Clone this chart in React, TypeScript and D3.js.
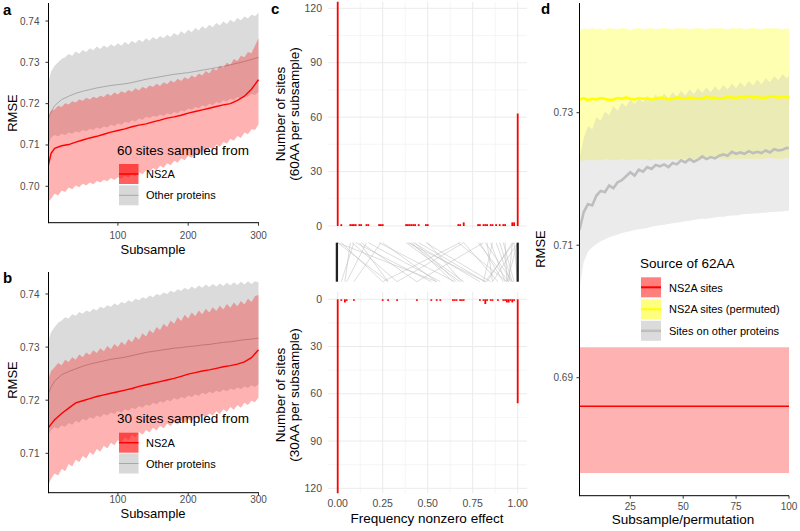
import React from "react";
import * as d3 from "d3";

const FONT = "'Liberation Sans', Arial, Helvetica, sans-serif";
const TICK_COLOR = "#4d4d4d";

// ---------- panels a & b : subsample index ----------
const BAND_X = [1,5,10,15,20,25,30,35,40,45,50,55,60,65,70,75,80,85,90,95,100,105,110,115,120,125,130,135,140,145,150,155,160,165,170,175,180,185,190,195,200,205,210,215,220,225,230,235,240,245,250,255,260,265,270,275,280,285,290,295,300];
const MEAN_X = [1,5,10,20,30,40,50,60,70,80,90,100,110,120,130,140,150,160,170,180,190,200,210,220,230,240,250,260,270,280,290,300];
const AB_XTICKS = [100, 200, 300];

// panel a (60 sites)
const A_NS2A_MEAN = [.7050,.7080,.7092,.7098,.7101,.7107,.7112,.7117,.7121,.7126,.7131,.7135,.7139,.7144,.7148,.7151,.7156,.7160,.7165,.7168,.7172,.7177,.7181,.7185,.7189,.7193,.7197,.7200,.7208,.7218,.7235,.7258];
const A_NS2A_HI = [.7165,.7183,.7186,.7195,.7192,.7201,.7198,.7206,.7203,.7210,.7207,.7214,.7210,.7217,.7213,.7219,.7216,.7224,.7219,.7227,.7222,
  .7230,.7226,.7233,.7229,.7237,.7232,.7241,.7236,.7244,.7240,.7248,.7243,.7252,.7247,.7256,.7251,.7260,.7255,.7264,.7259,
  .7268,.7263,.7273,.7268,.7279,.7273,.7285,.7280,.7292,.7287,.7299,.7294,.7308,.7303,.7316,.7312,.7325,.7322,.7340,.7358];
const A_NS2A_LO = [.6962,.6970,.6982,.6978,.6990,.6986,.6997,.6993,.7002,.6998,.7006,.7002,.7009,.7005,.7013,.7009,.7016,.7012,.7020,.7015,.7022,
  .7018,.7026,.7021,.7030,.7025,.7034,.7029,.7039,.7034,.7044,.7039,.7050,.7045,.7056,.7051,.7062,.7057,.7068,.7063,.7074,
  .7069,.7080,.7075,.7087,.7082,.7094,.7089,.7101,.7096,.7108,.7103,.7115,.7110,.7122,.7117,.7130,.7126,.7138,.7136,.7150];
const A_OTHER_MEAN = [.7165,.7180,.7195,.7210,.7218,.7225,.7230,.7234,.7238,.7241,.7244,.7246,.7248,.7251,.7255,.7259,.7262,.7265,.7268,.7271,.7273,.7275,.7278,.7281,.7284,.7287,.7290,.7294,.7298,.7302,.7307,.7312];
const A_OTHER_HI = [.7252,.7278,.7292,.7300,.7308,.7312,.7320,.7316,.7326,.7321,.7330,.7325,.7334,.7329,.7338,.7332,.7341,.7335,.7344,.7338,.7346,
  .7340,.7349,.7343,.7352,.7346,.7355,.7349,.7358,.7352,.7361,.7355,.7364,.7358,.7367,.7361,.7371,.7365,.7375,.7369,.7379,
  .7373,.7383,.7377,.7387,.7381,.7391,.7385,.7395,.7389,.7399,.7393,.7403,.7397,.7407,.7402,.7411,.7406,.7415,.7412,.7420];
const A_OTHER_LO = [.7100,.7118,.7124,.7121,.7127,.7124,.7130,.7127,.7133,.7130,.7136,.7133,.7139,.7136,.7142,.7139,.7145,.7142,.7149,.7146,.7152,
  .7149,.7156,.7153,.7160,.7157,.7164,.7161,.7168,.7165,.7171,.7168,.7174,.7171,.7177,.7174,.7180,.7177,.7184,.7181,.7188,
  .7185,.7192,.7189,.7196,.7193,.7200,.7197,.7204,.7201,.7208,.7205,.7212,.7209,.7216,.7213,.7220,.7217,.7224,.7221,.7228];
const A_YTICKS = [0.70, 0.71, 0.72, 0.73, 0.74];

// panel b (30 sites)
const B_NS2A_MEAN = [.7148,.7155,.7163,.7175,.7185,.7195,.7199,.7203,.7207,.7210,.7213,.7216,.7219,.7222,.7226,.7229,.7232,.7235,.7238,.7241,.7245,.7249,.7252,.7255,.7257,.7260,.7263,.7265,.7268,.7272,.7280,.7295];
const B_NS2A_HI = [.7240,.7255,.7262,.7270,.7266,.7276,.7272,.7281,.7276,.7286,.7281,.7290,.7285,.7294,.7289,.7298,.7292,.7302,.7296,.7306,.7300,
  .7310,.7304,.7315,.7309,.7320,.7314,.7326,.7320,.7332,.7326,.7338,.7332,.7344,.7338,.7350,.7344,.7356,.7349,.7361,.7354,
  .7365,.7358,.7369,.7362,.7372,.7365,.7375,.7368,.7378,.7371,.7381,.7374,.7384,.7377,.7387,.7380,.7391,.7385,.7396,.7398];
const B_NS2A_LO = [.7040,.7052,.7062,.7058,.7071,.7066,.7080,.7075,.7088,.7083,.7095,.7090,.7102,.7097,.7108,.7103,.7114,.7109,.7120,.7115,.7125,
  .7120,.7130,.7125,.7135,.7130,.7140,.7135,.7144,.7139,.7148,.7143,.7152,.7147,.7156,.7151,.7159,.7154,.7162,.7157,.7165,
  .7160,.7168,.7164,.7172,.7167,.7175,.7171,.7179,.7174,.7183,.7178,.7187,.7182,.7191,.7186,.7195,.7191,.7199,.7196,.7205];
const B_OTHER_MEAN = [.7212,.7225,.7236,.7248,.7254,.7259,.7264,.7268,.7271,.7274,.7277,.7279,.7281,.7284,.7287,.7290,.7292,.7294,.7296,.7298,.7299,.7301,.7302,.7304,.7305,.7307,.7309,.7310,.7312,.7314,.7315,.7317];
const B_OTHER_HI = [.7312,.7328,.7338,.7346,.7350,.7356,.7354,.7362,.7359,.7366,.7363,.7369,.7366,.7372,.7369,.7376,.7373,.7379,.7376,.7382,.7379,
  .7385,.7382,.7388,.7385,.7391,.7388,.7394,.7391,.7397,.7394,.7400,.7397,.7403,.7400,.7406,.7403,.7409,.7406,.7412,.7408,
  .7414,.7410,.7416,.7412,.7418,.7413,.7419,.7414,.7420,.7415,.7421,.7416,.7422,.7417,.7423,.7418,.7424,.7419,.7424,.7422];
const B_OTHER_LO = [.7135,.7144,.7149,.7146,.7153,.7150,.7157,.7154,.7161,.7158,.7165,.7162,.7168,.7165,.7171,.7168,.7174,.7171,.7177,.7174,.7180,
  .7177,.7183,.7180,.7186,.7183,.7189,.7186,.7192,.7189,.7195,.7192,.7198,.7195,.7201,.7198,.7204,.7201,.7206,.7203,.7209,
  .7206,.7211,.7208,.7214,.7211,.7216,.7213,.7218,.7215,.7220,.7217,.7222,.7219,.7224,.7221,.7226,.7223,.7228,.7225,.7230];
const B_YTICKS = [0.71, 0.72, 0.73, 0.74];

// ---------- panel c : histograms of frequency nonzero effect ----------
const C60_FREQ = [0.00,0.02,0.07,0.08,0.09,0.10,0.12,0.13,0.16,0.17,0.23,0.24,0.25,0.38,0.39,0.40,0.41,0.42,0.43,0.45,0.49,0.50,0.67,0.68,0.70,0.78,0.79,0.81,0.82,0.83,0.85,0.86,0.88,0.90,0.92,0.93,0.97,0.98,1.00];
const C60_COUNT = [124,1,1,1,1,1,1,1,1,1,1,1,1,1,1,1,1,1,1,1,1,1,1,1,2,1,1,1,1,1,1,1,1,1,1,1,2,2,62];
const C30_FREQ = [0.00,0.02,0.04,0.05,0.09,0.25,0.28,0.33,0.44,0.52,0.55,0.57,0.64,0.65,0.66,0.68,0.69,0.70,0.79,0.81,0.82,0.83,0.85,0.86,0.89,0.92,0.93,0.94,0.95,0.96,0.97,0.98,1.00];
const C30_COUNT = [124,1,2,1,1,1,1,1,1,1,1,1,1,1,1,1,1,1,1,1,3,1,1,1,1,1,1,2,2,1,2,1,66];
const LINK_60 = [0.02,0.07,0.08,0.09,0.10,0.12,0.13,0.16,0.17,0.23,0.24,0.25,0.38,0.39,0.40,0.41,0.42,0.43,0.45,0.49,0.50,0.67,0.68,0.70,0.70,0.78,0.79,0.81,0.82,0.83,0.85,0.86,0.88,0.90,0.92,0.93,0.97,0.97,0.98,0.98,0.00,0.00,1.00,1.00];
const LINK_30 = [0.25,0.04,0.33,0.02,0.52,0.28,0.44,0.05,0.57,0.65,0.09,0.55,0.68,0.82,0.70,0.64,0.79,0.66,0.82,0.85,0.69,0.94,0.25,0.89,0.33,0.95,0.92,0.44,0.97,0.86,0.93,0.81,0.96,0.97,0.98,0.94,0.83,0.95,1.00,0.82,0.28,0.55,0.94,0.86];
const C_XTICKS = [0, 0.25, 0.5, 0.75, 1];
const C_YTICKS = [0, 30, 60, 90, 120];

// ---------- panel d ----------
const D_X = [1,3,5,7,9,11,13,15,17,19,21,23,25,27,29,31,33,35,37,39,41,43,45,47,49,51,53,55,57,59,61,63,65,67,69,71,73,75,77,79,81,83,85,87,89,91,93,95,97,99,100];
const D_NS2A_X = [1, 100];
const D_NS2A_MEAN = [0.6857, 0.6857];
const D_NS2A_LO = [0.6756, 0.6756];
const D_NS2A_HI = [0.6946, 0.6946];
const D_PERM_MEAN = [.7320,.7322,.7319,.7321,.7320,.7322,.7321,.7319,.7320,.7322,.7321,.7323,.7321,.7320,.7322,.7321,.7322,.7320,.7321,.7323,.7322,.7320,.7321,.7323,.7322,.7321,.7323,.7322,.7321,.7322,.7324,.7322,.7323,.7321,.7322,.7324,.7323,.7322,.7324,.7323,.7325,.7323,.7324,.7322,.7323,.7325,.7324,.7323,.7324,.7323,.7324];
const D_PERM_HI = [.7425,.7427,.7426,.7428,.7426,.7427,.7425,.7428,.7427,.7426,.7428,.7427,.7425,.7427,.7428,.7426,.7427,.7428,.7426,.7427,.7428,.7427,.7426,.7428,.7427,.7428,.7426,.7427,.7428,.7427,.7426,.7428,.7427,.7428,.7427,.7426,.7428,.7427,.7428,.7426,.7427,.7428,.7427,.7426,.7428,.7427,.7428,.7427,.7426,.7427,.7427];
const D_PERM_LO = [.7227,.7228,.7229,.7228,.7229,.7228,.7230,.7229,.7228,.7229,.7230,.7229,.7228,.7230,.7229,.7230,.7229,.7228,.7230,.7229,.7230,.7229,.7230,.7229,.7231,.7230,.7229,.7230,.7231,.7230,.7229,.7231,.7230,.7231,.7230,.7229,.7231,.7230,.7231,.7230,.7231,.7230,.7231,.7230,.7231,.7232,.7231,.7230,.7231,.7232,.7231];
const D_OTHER_MEAN = [.7123,.7150,.7162,.7160,.7175,.7182,.7180,.7190,.7186,.7195,.7198,.7204,.7210,.7205,.7214,.7211,.7218,.7215,.7221,.7219,.7222,.7218,.7224,.7222,.7228,.7225,.7230,.7226,.7229,.7234,.7230,.7233,.7231,.7235,.7237,.7235,.7241,.7238,.7240,.7238,.7242,.7239,.7241,.7239,.7243,.7240,.7245,.7243,.7244,.7247,.7246];
const D_OTHER_HI = [.7230,.7262,.7280,.7275,.7293,.7288,.7302,.7296,.7310,.7303,.7315,.7309,.7320,.7313,.7322,.7316,.7325,.7318,.7327,.7320,.7329,.7322,.7331,.7324,.7333,.7326,.7335,.7328,.7337,.7330,.7338,.7331,.7340,.7333,.7342,.7335,.7344,.7337,.7346,.7339,.7348,.7341,.7350,.7343,.7352,.7346,.7355,.7349,.7358,.7352,.7356];
const D_OTHER_LO = [.7035,.7075,.7090,.7097,.7102,.7106,.7109,.7112,.7114,.7116,.7118,.7120,.7121,.7123,.7124,.7125,.7126,.7128,.7129,.7130,.7131,.7132,.7133,.7134,.7135,.7136,.7137,.7138,.7139,.7140,.7140,.7141,.7142,.7143,.7143,.7144,.7145,.7145,.7146,.7147,.7147,.7148,.7148,.7149,.7149,.7150,.7150,.7151,.7151,.7152,.7152];
const D_XTICKS = [25, 50, 75, 100];
const D_YTICKS = [0.69, 0.71, 0.73];

// ---------- helpers ----------
type Scale = d3.ScaleLinear<number, number>;
const idx = (n: number) => Array.from({ length: n }, (_, i) => i);
function bandPath(xs: number[], lo: number[], hi: number[], x: Scale, y: Scale) {
  const n = Math.min(xs.length, lo.length, hi.length);
  return d3.area<number>().x(i => x(xs[i])).y0(i => y(lo[i])).y1(i => y(hi[i]))(idx(n)) || "";
}
function linePath(xs: number[], ys: number[], x: Scale, y: Scale) {
  const n = Math.min(xs.length, ys.length);
  return d3.line<number>().x(i => x(xs[i])).y(i => y(ys[i]))(idx(n)) || "";
}

const PANEL_A = {
  id: "clipA", letter: "a", letterY: 15, top: 3, bottom: 222.7,
  yDomain: [0.70, 0.74], yRange: [186.3, 21], yTicks: A_YTICKS,
  nsMean: A_NS2A_MEAN, nsLo: A_NS2A_LO, nsHi: A_NS2A_HI,
  oMean: A_OTHER_MEAN, oLo: A_OTHER_LO, oHi: A_OTHER_HI,
  title: "60 sites sampled from", titleY: 155, key1: 164, key2: 185.3, lab1: 178, lab2: 199,
  tickY: 239, xTitleY: 254, rmseY: 113,
};
const PANEL_B = {
  id: "clipB", letter: "b", letterY: 283, top: 272, bottom: 492.7,
  yDomain: [0.71, 0.74], yRange: [453.3, 294], yTicks: B_YTICKS,
  nsMean: B_NS2A_MEAN, nsLo: B_NS2A_LO, nsHi: B_NS2A_HI,
  oMean: B_OTHER_MEAN, oLo: B_OTHER_LO, oHi: B_OTHER_HI,
  title: "30 sites sampled from", titleY: 423, key1: 432.7, key2: 453.5, lab1: 447, lab2: 468,
  tickY: 502.5, xTitleY: 518, rmseY: 380,
};

function SubsamplePanel({ c }: { c: typeof PANEL_A }) {
  const L = 48.5, R = 259;
  const x = d3.scaleLinear().domain([1, 300]).range([48.3, 258.5]);
  const y = d3.scaleLinear().domain(c.yDomain).range(c.yRange);
  const kx = 119, kw = 19.5;
  return (
    <g>
      <defs>
        <clipPath id={c.id}><rect x={L} y={c.top} width={R - L} height={c.bottom - c.top} /></clipPath>
      </defs>
      <g clipPath={`url(#${c.id})`}>
        <path d={bandPath(BAND_X, c.oLo, c.oHi, x, y)} fill="#bebebe" fillOpacity={0.55} />
        <path d={linePath(MEAN_X, c.oMean, x, y)} fill="none" stroke="#a8a8a8" strokeWidth={1} />
        <path d={bandPath(BAND_X, c.nsLo, c.nsHi, x, y)} fill="#ff0000" fillOpacity={0.3} />
        <path d={linePath(MEAN_X, c.nsMean, x, y)} fill="none" stroke="#ff0000" strokeWidth={1.4} />
      </g>
      {/* axes */}
      <line x1={L} x2={L} y1={c.top} y2={c.bottom + 0.5} stroke="#000" strokeWidth={1} />
      <line x1={L} x2={R} y1={c.bottom} y2={c.bottom} stroke="#000" strokeWidth={1} />
      {c.yTicks.map(t => (
        <g key={t}>
          <line x1={L - 3} x2={L} y1={y(t)} y2={y(t)} stroke="#333" strokeWidth={1} />
          <text x={39.5} y={y(t)} dy="0.35em" textAnchor="end" fontSize={10} fill={TICK_COLOR}>{t.toFixed(2)}</text>
        </g>
      ))}
      {AB_XTICKS.map(t => (
        <g key={t}>
          <line x1={x(t)} x2={x(t)} y1={c.bottom} y2={c.bottom + 3} stroke="#333" strokeWidth={1} />
          <text x={x(t)} y={c.tickY} textAnchor="middle" fontSize={10} fill={TICK_COLOR}>{t}</text>
        </g>
      ))}
      <text x={153} y={c.xTitleY} textAnchor="middle" fontSize={13}>Subsample</text>
      <text transform={`translate(17,${c.rmseY}) rotate(-90)`} textAnchor="middle" fontSize={13}>RMSE</text>
      <text x={3} y={c.letterY} fontSize={15} fontWeight="bold">{c.letter}</text>
      {/* legend */}
      <text x={117} y={c.titleY} fontSize={13.5}>{c.title}</text>
      <rect x={kx} y={c.key1} width={kw} height={20} fill="#ff0000" fillOpacity={0.62} />
      <line x1={kx} x2={kx + kw} y1={c.key1 + 10} y2={c.key1 + 10} stroke="#ff0000" strokeWidth={1.5} />
      <rect x={kx} y={c.key2} width={kw} height={20} fill="#bebebe" fillOpacity={0.6} />
      <line x1={kx} x2={kx + kw} y1={c.key2 + 10} y2={c.key2 + 10} stroke="#a8a8a8" strokeWidth={1} />
      <text x={146} y={c.lab1} fontSize={11}>NS2A</text>
      <text x={146} y={c.lab2} fontSize={11}>Other proteins</text>
    </g>
  );
}

function PanelC() {
  const x = d3.scaleLinear().domain([0, 1]).range([337.7, 517.7]);
  const yT = d3.scaleLinear().domain([0, 120]).range([226, 8.3]);
  const yB = d3.scaleLinear().domain([0, 120]).range([299.3, 488.3]);
  const GL = 328, GR = 527;
  const topArea = { t: 1.7, b: 229 };
  const botArea = { t: 292, b: 493.3 };
  const xMinor = d3.pairs(C_XTICKS).map(([a, b]) => (a + b) / 2);
  const yMinor = d3.pairs(C_YTICKS).map(([a, b]) => (a + b) / 2);
  const bw = x(0.01) - x(0);
  const linkTop = 242.7, linkBot = 281.7;
  const grid = (yS: Scale, area: { t: number; b: number }, key: string) => (
    <g key={key}>
      {xMinor.map(v => <line key={"xm" + v} x1={x(v)} x2={x(v)} y1={area.t} y2={area.b} stroke="#f2f2f2" strokeWidth={0.7} />)}
      {yMinor.map(v => <line key={"ym" + v} x1={GL} x2={GR} y1={yS(v)} y2={yS(v)} stroke="#f2f2f2" strokeWidth={0.7} />)}
      {C_XTICKS.map(v => <line key={"x" + v} x1={x(v)} x2={x(v)} y1={area.t} y2={area.b} stroke="#ebebeb" strokeWidth={1} />)}
      {C_YTICKS.map(v => <line key={"y" + v} x1={GL} x2={GR} y1={yS(v)} y2={yS(v)} stroke="#ebebeb" strokeWidth={1} />)}
    </g>
  );
  return (
    <g>
      <defs>
        <clipPath id="clipCT"><rect x={GL} y={topArea.t} width={GR - GL} height={topArea.b - topArea.t} /></clipPath>
        <clipPath id="clipCB"><rect x={GL} y={botArea.t} width={GR - GL} height={botArea.b - botArea.t} /></clipPath>
      </defs>
      {grid(yT, topArea, "gt")}
      {grid(yB, botArea, "gb")}
      <g clipPath="url(#clipCT)">
        {C60_FREQ.map((f, i) => (
          <rect key={i} x={x(f) - bw / 2} width={bw} y={yT(C60_COUNT[i])} height={yT(0) - yT(C60_COUNT[i])} fill="#ff0000" />
        ))}
      </g>
      <g clipPath="url(#clipCB)">
        {C30_FREQ.map((f, i) => (
          <rect key={i} x={x(f) - bw / 2} width={bw} y={yB(0)} height={yB(C30_COUNT[i]) - yB(0)} fill="#ff0000" />
        ))}
      </g>
      {/* links between the two subsamplings */}
      {LINK_60.map((f, i) => (
        <line key={i} x1={x(f)} x2={x(LINK_30[i])} y1={linkTop} y2={linkBot} stroke="#bdbdbd" strokeOpacity={0.6} strokeWidth={0.9} />
      ))}
      <line x1={x(0) - 0.8} x2={x(0) - 0.8} y1={linkTop} y2={linkBot} stroke="#222" strokeWidth={2.3} />
      <line x1={x(1)} x2={x(1)} y1={linkTop} y2={linkBot} stroke="#222" strokeWidth={2.3} />
      {/* tick labels */}
      {C_YTICKS.map(t => (
        <text key={"t" + t} x={322} y={yT(t)} dy="0.35em" textAnchor="end" fontSize={10.5} fill={TICK_COLOR}>{t}</text>
      ))}
      {C_YTICKS.map(t => (
        <text key={"b" + t} x={322} y={yB(t)} dy="0.35em" textAnchor="end" fontSize={10.5} fill={TICK_COLOR}>{t}</text>
      ))}
      {C_XTICKS.map(t => (
        <text key={"x" + t} x={x(t)} y={507} textAnchor="middle" fontSize={10.5} fill={TICK_COLOR}>{t.toFixed(2)}</text>
      ))}
      <text x={427} y={522.5} textAnchor="middle" fontSize={13.5}>Frequency nonzero effect</text>
      <text transform="translate(285,114) rotate(-90)" textAnchor="middle" fontSize={13.5}>Number of sites</text>
      <text transform="translate(298.5,114) rotate(-90)" textAnchor="middle" fontSize={13.5}>(60AA per subsample)</text>
      <text transform="translate(285,395) rotate(-90)" textAnchor="middle" fontSize={13.5}>Number of sites</text>
      <text transform="translate(298.5,395) rotate(-90)" textAnchor="middle" fontSize={13.5}>(30AA per subsample)</text>
      <text x={271} y={14} fontSize={15} fontWeight="bold">c</text>
    </g>
  );
}

function PanelD() {
  const L = 579.5, R = 789, top = 3, bottom = 495.7;
  const x = d3.scaleLinear().domain([1, 100]).range([579.5, 789]);
  const y = d3.scaleLinear().domain([0.69, 0.73]).range([377.7, 112.7]);
  const kx = 641, kw = 20;
  return (
    <g>
      <defs>
        <clipPath id="clipD"><rect x={L} y={top} width={R - L} height={bottom - top} /></clipPath>
      </defs>
      <g clipPath="url(#clipD)">
        <path d={bandPath(D_NS2A_X, D_NS2A_LO, D_NS2A_HI, x, y)} fill="#ff0000" fillOpacity={0.3} />
        <path d={bandPath(D_X, D_PERM_LO, D_PERM_HI, x, y)} fill="#ffff00" fillOpacity={0.3} />
        <path d={bandPath(D_X, D_OTHER_LO, D_OTHER_HI, x, y)} fill="#bebebe" fillOpacity={0.3} />
        <path d={linePath(D_NS2A_X, D_NS2A_MEAN, x, y)} fill="none" stroke="#ff0000" strokeWidth={1.5} />
        <path d={linePath(D_X, D_PERM_MEAN, x, y)} fill="none" stroke="#ffff00" strokeWidth={2.6} />
        <path d={linePath(D_X, D_OTHER_MEAN, x, y)} fill="none" stroke="#bebebe" strokeWidth={2.6} />
      </g>
      <line x1={L} x2={L} y1={top} y2={bottom + 0.5} stroke="#000" strokeWidth={1} />
      <line x1={L} x2={R} y1={bottom} y2={bottom} stroke="#000" strokeWidth={1} />
      {D_YTICKS.map(t => (
        <g key={t}>
          <line x1={L - 3} x2={L} y1={y(t)} y2={y(t)} stroke="#333" strokeWidth={1} />
          <text x={573} y={y(t)} dy="0.35em" textAnchor="end" fontSize={10} fill={TICK_COLOR}>{t.toFixed(2)}</text>
        </g>
      ))}
      {D_XTICKS.map(t => (
        <g key={t}>
          <line x1={x(t)} x2={x(t)} y1={bottom} y2={bottom + 3} stroke="#333" strokeWidth={1} />
          <text x={x(t)} y={510} textAnchor="middle" fontSize={10} fill={TICK_COLOR}>{t}</text>
        </g>
      ))}
      <text x={683} y={524} textAnchor="middle" fontSize={13.5}>Subsample/permutation</text>
      <text transform="translate(545,249) rotate(-90)" textAnchor="middle" fontSize={13}>RMSE</text>
      <text x={541} y={14} fontSize={15} fontWeight="bold">d</text>
      {/* legend */}
      <text x={640} y={268.3} fontSize={13.5}>Source of 62AA</text>
      <rect x={kx} y={277.3} width={kw} height={20} fill="#ff0000" fillOpacity={0.5} />
      <line x1={kx} x2={kx + kw} y1={287.3} y2={287.3} stroke="#ff0000" strokeWidth={2} />
      <rect x={kx} y={299.3} width={kw} height={20} fill="#ffff00" fillOpacity={0.5} />
      <line x1={kx} x2={kx + kw} y1={309.3} y2={309.3} stroke="#ffff00" strokeWidth={2} />
      <rect x={kx} y={320.8} width={kw} height={20} fill="#bebebe" fillOpacity={0.55} />
      <line x1={kx} x2={kx + kw} y1={330.8} y2={330.8} stroke="#bebebe" strokeWidth={2.5} />
      <text x={669} y={291.5} fontSize={11}>NS2A sites</text>
      <text x={669} y={313} fontSize={11}>NS2A sites (permuted)</text>
      <text x={669} y={335} fontSize={11}>Sites on other proteins</text>
    </g>
  );
}

export default function App() {
  return (
    <svg width={800} height={531} viewBox="0 0 800 531"
      style={{ position: "absolute", left: 0, top: 0, background: "#fff", display: "block" }}
      fontFamily={FONT}>
      <rect width={800} height={531} fill="#fff" />
      <SubsamplePanel c={PANEL_A} />
      <SubsamplePanel c={PANEL_B} />
      <PanelC />
      <PanelD />
    </svg>
  );
}
